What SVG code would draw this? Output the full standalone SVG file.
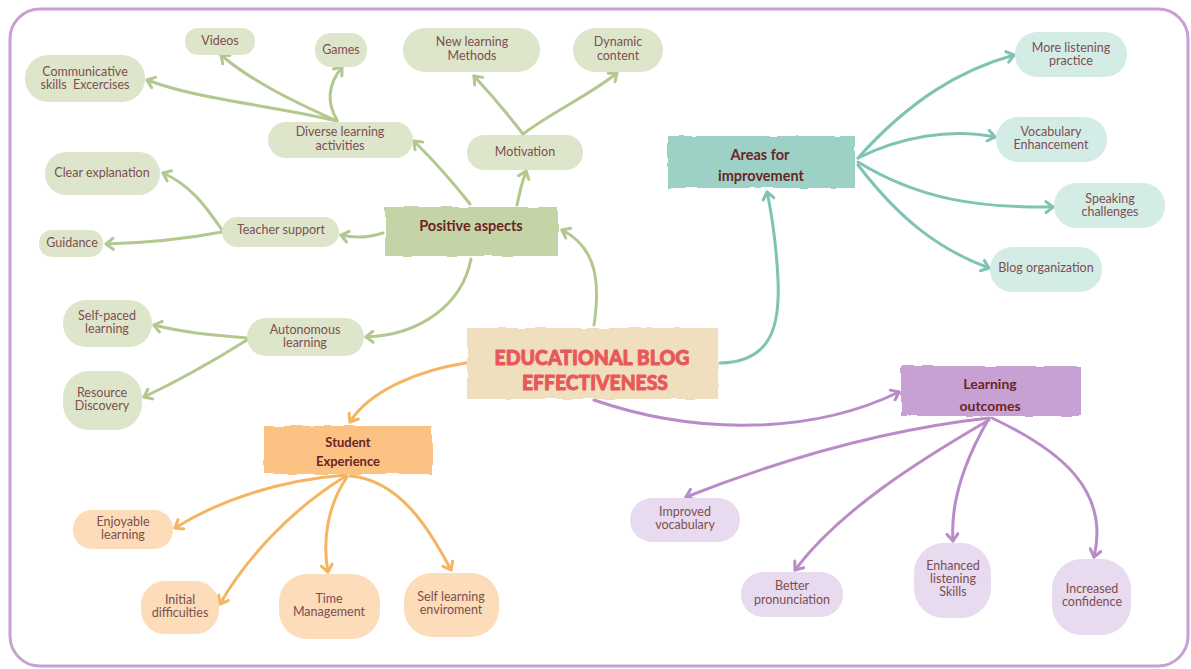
<svg xmlns="http://www.w3.org/2000/svg" width="1191" height="669" viewBox="0 0 1191 669">
<style>
  .t { font-family: "Lato", "Open Sans", sans-serif; font-size: 12.5px; fill: #7d4f50; text-anchor: middle; }
  .h { font-family: "Lato", "Open Sans", sans-serif; font-weight: 700; fill: #6b2424; text-anchor: middle; }
  .title { font-family: "Lato", "Liberation Sans", sans-serif; font-weight: 900; font-size: 20px; fill: #e8585a; stroke: #e8585a; stroke-width: 0.9; stroke-linejoin: round; text-anchor: middle; }
  .gl { fill: #dde6cb; } .gb { fill: #c5d4a6; }
  .tl { fill: #d4ece6; } .tb { fill: #9dd1c6; }
  .ol { fill: #fcdcb9; } .ob { fill: #fbc283; }
  .pl { fill: #e8daef; } .pb { fill: #c8a1d4; }
  .c { fill: none; stroke-width: 3; stroke-linecap: round; }
  .cg { stroke: #b3c88f; } .ct { stroke: #7fc3b5; } .co { stroke: #f5b462; } .cp { stroke: #b98bc9; }
</style>
<defs>
  <filter id="rough" x="-5%" y="-15%" width="110%" height="130%">
    <feTurbulence type="fractalNoise" baseFrequency="0.05" numOctaves="2" seed="5"/>
    <feDisplacementMap in="SourceGraphic" scale="3.5" xChannelSelector="R" yChannelSelector="G"/>
  </filter>
  <marker id="ag" viewBox="-10 -7 12 14" refX="0" refY="0" markerWidth="12" markerHeight="14" markerUnits="userSpaceOnUse" orient="auto"><path d="M-7,-5.5 L0,0 L-7,5.5" fill="none" stroke="#b3c88f" stroke-width="3" stroke-linecap="round" stroke-linejoin="round"/></marker>
  <marker id="at" viewBox="-10 -7 12 14" refX="0" refY="0" markerWidth="12" markerHeight="14" markerUnits="userSpaceOnUse" orient="auto"><path d="M-7,-5.5 L0,0 L-7,5.5" fill="none" stroke="#7fc3b5" stroke-width="3" stroke-linecap="round" stroke-linejoin="round"/></marker>
  <marker id="ao" viewBox="-10 -7 12 14" refX="0" refY="0" markerWidth="12" markerHeight="14" markerUnits="userSpaceOnUse" orient="auto"><path d="M-7,-5.5 L0,0 L-7,5.5" fill="none" stroke="#f5b462" stroke-width="3" stroke-linecap="round" stroke-linejoin="round"/></marker>
  <marker id="ap" viewBox="-10 -7 12 14" refX="0" refY="0" markerWidth="12" markerHeight="14" markerUnits="userSpaceOnUse" orient="auto"><path d="M-7,-5.5 L0,0 L-7,5.5" fill="none" stroke="#b98bc9" stroke-width="3" stroke-linecap="round" stroke-linejoin="round"/></marker>
</defs>
<rect width="1191" height="669" fill="#ffffff"/>
<rect x="10" y="9" width="1178" height="657" rx="30" fill="#ffffff" stroke="#c9a0d4" stroke-width="3"/>

<g id="connectors">
  <path class="c cg" marker-end="url(#ag)" d="M594,325 C600,285 598,248 562,230"/>
  <path class="c cg" marker-end="url(#ag)" d="M470,204 Q445,172 414,141"/>
  <path class="c cg" marker-end="url(#ag)" d="M517,205 Q520,188 526,171"/>
  <path class="c cg" marker-end="url(#ag)" d="M383,233 Q362,240 341,235"/>
  <path class="c cg" marker-end="url(#ag)" d="M471,259 C462,305 420,335 366,337"/>
  <path class="c cg" marker-end="url(#ag)" d="M337,121 C270,105 200,100 147,80"/>
  <path class="c cg" marker-end="url(#ag)" d="M337,121 C290,100 250,80 221,55"/>
  <path class="c cg" marker-end="url(#ag)" d="M337,120 C325,100 330,82 342,67"/>
  <path class="c cg" marker-end="url(#ag)" d="M523,134 Q500,104 474,76"/>
  <path class="c cg" marker-end="url(#ag)" d="M523,134 C555,110 590,95 617,73"/>
  <path class="c cg" marker-end="url(#ag)" d="M222,230 C205,205 190,185 163,173"/>
  <path class="c cg" marker-end="url(#ag)" d="M222,232 C180,240 140,243 106,244"/>
  <path class="c cg" marker-end="url(#ag)" d="M247,338 C215,335 185,333 154,325"/>
  <path class="c cg" marker-end="url(#ag)" d="M247,340 C215,360 180,380 144,397"/>

  <path class="c ct" marker-end="url(#at)" d="M720,363 C772,362 780,325 778,280 C776,240 772,215 767,192"/>
  <path class="c ct" marker-end="url(#at)" d="M858,158 C910,100 960,70 1014,55"/>
  <path class="c ct" marker-end="url(#at)" d="M858,158 C900,137 950,128 995,137"/>
  <path class="c ct" marker-end="url(#at)" d="M858,162 C920,200 980,208 1053,207"/>
  <path class="c ct" marker-end="url(#at)" d="M858,165 C900,220 940,250 989,268"/>

  <path class="c co" marker-end="url(#ao)" d="M466,363 C420,370 370,390 350,422"/>
  <path class="c co" marker-end="url(#ao)" d="M346,475 C280,480 220,500 175,528"/>
  <path class="c co" marker-end="url(#ao)" d="M346,476 C290,510 245,560 220,604"/>
  <path class="c co" marker-end="url(#ao)" d="M347,477 C328,505 322,540 328,572"/>
  <path class="c co" marker-end="url(#ao)" d="M350,476 C400,480 430,530 451,570"/>

  <path class="c cp" marker-end="url(#ap)" d="M594,400 C680,430 800,440 899,392"/>
  <path class="c cp" marker-end="url(#ap)" d="M989,418 C880,430 780,460 686,497"/>
  <path class="c cp" marker-end="url(#ap)" d="M989,420 C920,460 840,510 795,570"/>
  <path class="c cp" marker-end="url(#ap)" d="M988,420 C965,460 950,500 953,541"/>
  <path class="c cp" marker-end="url(#ap)" d="M992,418 C1060,450 1110,490 1094,557"/>
</g>

<g id="central">
  <rect x="467" y="328" width="251" height="71" fill="#f0dfbf" filter="url(#rough)"/>
  <text class="title" x="592" y="365" textLength="195" lengthAdjust="spacingAndGlyphs">EDUCATIONAL BLOG</text>
  <text class="title" x="595" y="390" textLength="146" lengthAdjust="spacingAndGlyphs">EFFECTIVENESS</text>
</g>

<g id="positive-aspects">
  <rect class="gb" x="385" y="207" width="173" height="49" filter="url(#rough)"/>
  <text class="h" x="471" y="231" font-size="14.5">Positive aspects</text>
</g>
<g id="diverse"><rect class="gl" x="268" y="122" width="145" height="36" rx="18"/><text class="t" x="340" y="136">Diverse learning</text><text class="t" x="340" y="150">activities</text></g>
<g id="comm"><rect class="gl" x="25" y="55" width="120" height="47" rx="23"/><text class="t" x="85" y="76">Communicative</text><text class="t" x="85" y="89" xml:space="preserve">skills  Excercises</text></g>
<g id="videos"><rect class="gl" x="185" y="28" width="70" height="27" rx="13"/><text class="t" x="220" y="45">Videos</text></g>
<g id="games"><rect class="gl" x="315" y="33" width="52" height="34" rx="16"/><text class="t" x="341" y="54">Games</text></g>
<g id="motivation"><rect class="gl" x="467" y="135" width="116" height="35" rx="17"/><text class="t" x="525" y="156">Motivation</text></g>
<g id="new-methods"><rect class="gl" x="403" y="28" width="137" height="44" rx="22"/><text class="t" x="472" y="46">New learning</text><text class="t" x="472" y="59.5">Methods</text></g>
<g id="dynamic"><rect class="gl" x="573" y="28" width="90" height="44" rx="22"/><text class="t" x="618" y="46">Dynamic</text><text class="t" x="618" y="59.5">content</text></g>
<g id="teacher"><rect class="gl" x="222" y="217" width="117" height="30" rx="15"/><text class="t" x="281" y="234">Teacher support</text></g>
<g id="clear"><rect class="gl" x="45" y="152" width="115" height="43" rx="21"/><text class="t" x="102" y="177">Clear explanation</text></g>
<g id="guidance"><rect class="gl" x="39" y="230" width="64" height="27" rx="13"/><text class="t" x="72" y="247">Guidance</text></g>
<g id="autonomous"><rect class="gl" x="247" y="318" width="117" height="38" rx="19"/><text class="t" x="305" y="334">Autonomous</text><text class="t" x="305" y="347">learning</text></g>
<g id="selfpaced"><rect class="gl" x="63" y="300" width="89" height="47" rx="23"/><text class="t" x="107" y="320">Self-paced</text><text class="t" x="107" y="333">learning</text></g>
<g id="resource"><rect class="gl" x="63" y="371" width="79" height="59" rx="26"/><text class="t" x="102" y="397">Resource</text><text class="t" x="102" y="410">Discovery</text></g>

<g id="areas">
  <rect class="tb" x="668" y="136" width="187" height="52" filter="url(#rough)"/>
  <text class="h" x="760" y="160" font-size="14.5">Areas for</text>
  <text class="h" x="761" y="181" font-size="14.5">improvement</text>
</g>
<g id="listening-practice"><rect class="tl" x="1015" y="32" width="112" height="45" rx="22"/><text class="t" x="1071" y="52">More listening</text><text class="t" x="1071" y="65">practice</text></g>
<g id="vocab-enh"><rect class="tl" x="996" y="117" width="111" height="45" rx="22"/><text class="t" x="1051" y="136">Vocabulary</text><text class="t" x="1051" y="149">Enhancement</text></g>
<g id="speaking"><rect class="tl" x="1054" y="183" width="111" height="45" rx="22"/><text class="t" x="1110" y="203">Speaking</text><text class="t" x="1110" y="216">challenges</text></g>
<g id="blog-org"><rect class="tl" x="990" y="247" width="112" height="45" rx="22"/><text class="t" x="1046" y="272">Blog organization</text></g>

<g id="student">
  <rect class="ob" x="264" y="426" width="168" height="48" filter="url(#rough)"/>
  <text class="h" x="348" y="447" font-size="13">Student</text>
  <text class="h" x="348" y="466" font-size="13">Experience</text>
</g>
<g id="enjoyable"><rect class="ol" x="73" y="510" width="100" height="39" rx="19"/><text class="t" x="123" y="526">Enjoyable</text><text class="t" x="123" y="539">learning</text></g>
<g id="initial"><rect class="ol" x="141" y="581" width="78" height="53" rx="24"/><text class="t" x="180" y="604">Initial</text><text class="t" x="180" y="617">difficulties</text></g>
<g id="time"><rect class="ol" x="279" y="574" width="101" height="65" rx="28"/><text class="t" x="329" y="603">Time</text><text class="t" x="329" y="616">Management</text></g>
<g id="selflearning"><rect class="ol" x="404" y="573" width="95" height="64" rx="28"/><text class="t" x="451" y="601">Self learning</text><text class="t" x="451" y="614">enviroment</text></g>

<g id="outcomes">
  <rect class="pb" x="901" y="366" width="180" height="50" filter="url(#rough)"/>
  <text class="h" x="990" y="389" font-size="14">Learning</text>
  <text class="h" x="990" y="411" font-size="14">outcomes</text>
</g>
<g id="improved"><rect class="pl" x="630" y="498" width="110" height="44" rx="22"/><text class="t" x="685" y="516">Improved</text><text class="t" x="685" y="529">vocabulary</text></g>
<g id="better"><rect class="pl" x="741" y="572" width="102" height="45" rx="22"/><text class="t" x="792" y="590">Better</text><text class="t" x="792" y="603.5">pronunciation</text></g>
<g id="enhanced"><rect class="pl" x="914" y="543" width="77" height="75" rx="30"/><text class="t" x="953" y="570">Enhanced</text><text class="t" x="953" y="583">listening</text><text class="t" x="953" y="596">Skills</text></g>
<g id="increased"><rect class="pl" x="1052" y="559" width="79" height="76" rx="30"/><text class="t" x="1092" y="593">Increased</text><text class="t" x="1092" y="606">confidence</text></g>
</svg>
